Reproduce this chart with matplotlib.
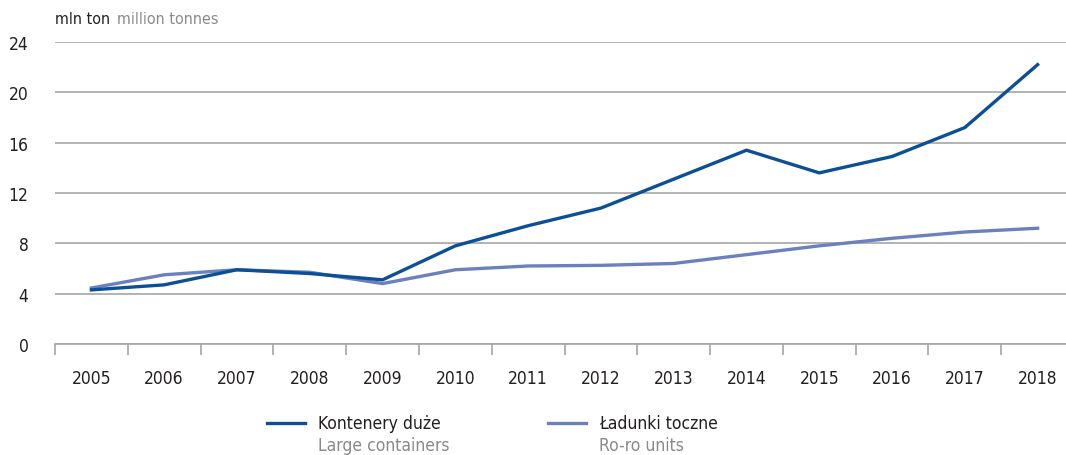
import matplotlib.pyplot as plt
from matplotlib.lines import Line2D
from matplotlib.ticker import FixedLocator

plt.rcParams['font.family'] = ['DejaVu Sans']
plt.rcParams['font.stretch'] = 'condensed'

years = ['2005', '2006', '2007', '2008', '2009', '2010', '2011',
         '2012', '2013', '2014', '2015', '2016', '2017', '2018']
large_containers = [4.3, 4.7, 5.9, 5.6, 5.1, 7.8, 9.4, 10.8, 13.1, 15.4, 13.6, 14.9, 17.2, 22.2]
roro_units = [4.45, 5.5, 5.9, 5.7, 4.8, 5.9, 6.2, 6.25, 6.4, 7.1, 7.8, 8.4, 8.9, 9.2]
y_ticks = [0, 4, 8, 12, 16, 20, 24]

dark = '#0b4f97'
light = '#6b80bd'
grid_c = '#a6a6a6'
text_c = '#231f20'
grey_text = '#8a8a8a'

fig = plt.figure(figsize=(10.66, 4.56), dpi=100)
ax = fig.add_axes([55 / 1066, 1 - 345 / 456, 1 - 55 / 1066, (345 - 43) / 456])

x = list(range(len(years)))
ax.plot(x, roro_units, color=light, lw=2.4, solid_joinstyle='round')
ax.plot(x, large_containers, color=dark, lw=2.4, solid_joinstyle='round')

ax.set_ylim(0, 24)
ax.set_xlim(-0.5, 13.39)
ax.set_yticks(y_ticks)
ax.set_yticklabels([str(v) for v in y_ticks], fontsize=12.5, color=text_c)
ax.yaxis.grid(True, color=grid_c, lw=1.2)
ax.set_axisbelow(True)
ax.tick_params(axis='y', length=0, pad=19)

ax.set_xticks(x)
ax.set_xticklabels(years, fontsize=12.5, color=text_c)
ax.xaxis.set_minor_locator(FixedLocator([i - 0.5 for i in range(len(years) + 1)]))
ax.tick_params(axis='x', which='major', length=0, pad=18)
ax.tick_params(axis='x', which='minor', length=8, width=1.2, color=grid_c)

for s in ['top', 'right', 'left']:
    ax.spines[s].set_visible(False)
ax.spines['bottom'].set_color(grid_c)
ax.spines['bottom'].set_linewidth(1.2)

fig.text(55 / 1066, 1 - 20 / 456, 'mln ton', fontsize=11.5, color=text_c, va='center')
fig.text(117 / 1066, 1 - 20 / 456, 'million tonnes', fontsize=11.5, color=grey_text, va='center')

# legend
legend_items = [(267, dark, 'Kontenery duże', 'Large containers'),
                (548, light, 'Ładunki toczne', 'Ro-ro units')]
for lx, col, pl, en in legend_items:
    fig.add_artist(Line2D([lx / 1066, (lx + 38) / 1066], [1 - 424 / 456] * 2,
                          color=col, lw=2.4))
    fig.text((lx + 51) / 1066, 1 - 424 / 456, pl, fontsize=12.5, color=text_c, va='center')
    fig.text((lx + 51) / 1066, 1 - 446 / 456, en, fontsize=12.5, color=grey_text, va='center')

fig.savefig('out.png', dpi=100)
